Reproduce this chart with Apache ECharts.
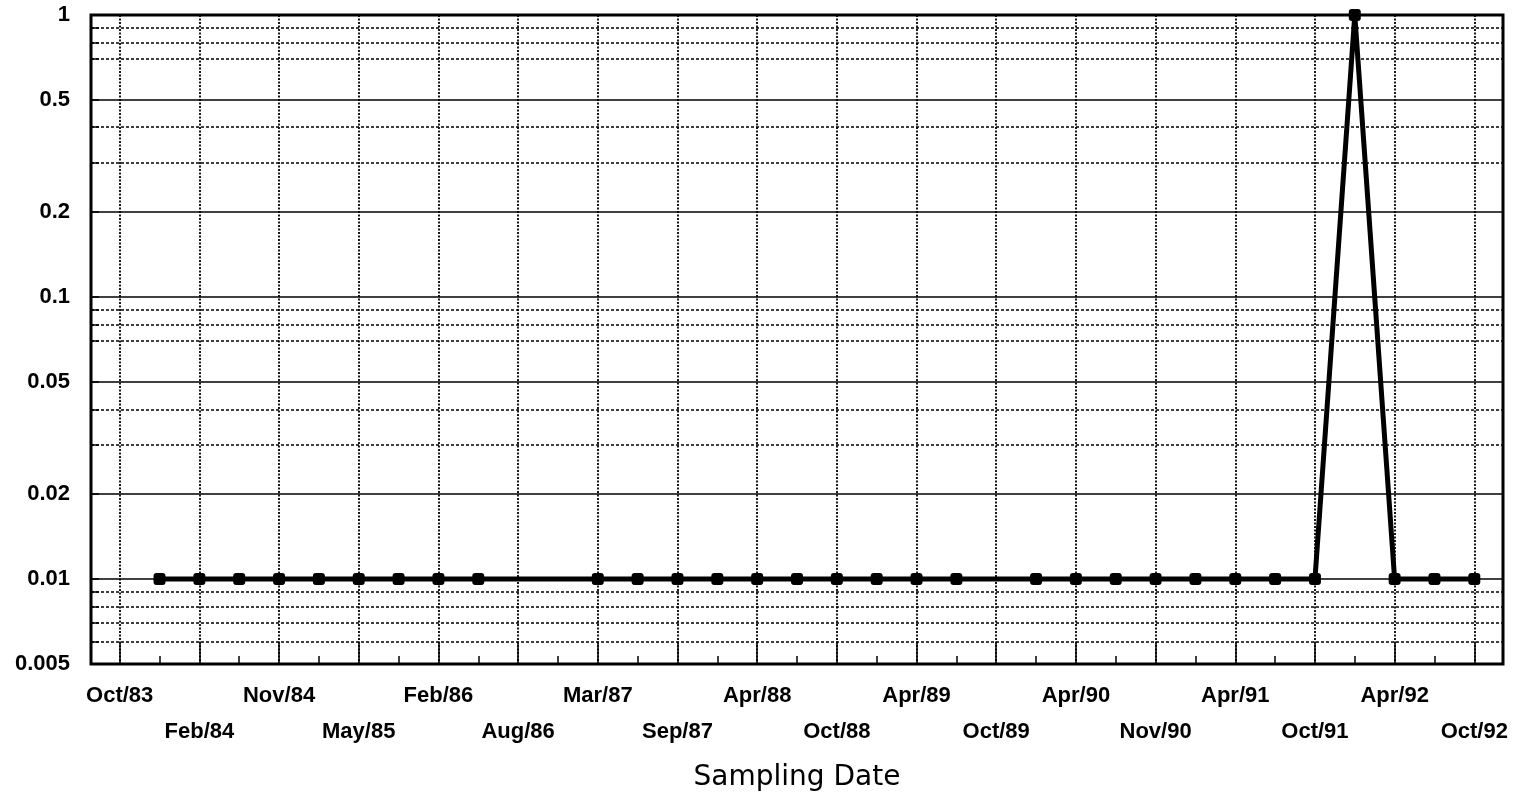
<!DOCTYPE html>
<html>
<head>
<meta charset="utf-8">
<script src="https://cdn.jsdelivr.net/npm/echarts@6/dist/echarts.min.js"></script>
<style>
  html, body { margin: 0; padding: 0; background: #fff; }
  #chart { width: 1513px; height: 799px; }
</style>
</head>
<body>
<div id="chart"></div>
<script>
// Dates printed under every second sampling slot
const dateLabels = [
  'Oct/83', 'Feb/84', 'Nov/84', 'May/85', 'Feb/86', 'Aug/86', 'Mar/87', 'Sep/87', 'Apr/88',
  'Oct/88', 'Apr/89', 'Oct/89', 'Apr/90', 'Nov/90', 'Apr/91', 'Oct/91', 'Apr/92', 'Oct/92'
];

// Concentration per sampling slot (null = no result for that slot)
const concentration = [
  null,
  0.01, 0.01, 0.01, 0.01, 0.01, 0.01, 0.01, 0.01, 0.01,
  null, null,
  0.01, 0.01, 0.01, 0.01, 0.01, 0.01, 0.01, 0.01, 0.01, 0.01,
  null,
  0.01, 0.01, 0.01, 0.01, 0.01, 0.01, 0.01, 0.01,
  1,
  0.01, 0.01, 0.01
];

// Log-axis labels (solid grid) and the extra dotted grid levels
const yLabelValues = [0.005, 0.01, 0.02, 0.05, 0.1, 0.2, 0.5, 1];
const yMinorValues = [0.006, 0.007, 0.008, 0.009, 0.03, 0.04, 0.07, 0.08, 0.09, 0.3, 0.4, 0.7, 0.8, 0.9];

const TICK_FONT = 'Liberation Sans';
const TITLE_FONT = 'DejaVu Sans';
const slotCount = concentration.length;
const edgePad = 0.72;

const chart = echarts.init(document.getElementById('chart'), null, { renderer: 'canvas' });

function dateLabel(value) {
  if (Math.abs(value - Math.round(value)) > 1e-6) return '';
  const v = Math.round(value);
  if (v % 2 !== 0) return '';
  const k = v / 2;
  const text = dateLabels[k];
  if (text === undefined) return '';
  return k % 2 === 0 ? text : '\n' + text;
}

const tickLine = { color: '#000', width: 1.5 };

chart.setOption({
  animation: false,
  backgroundColor: '#fff',
  grid: {
    left: 91, right: 10, top: 15, bottom: 135,
    show: true,
    borderColor: '#000',
    borderWidth: 3,
    backgroundColor: 'transparent',
    containLabel: false,
    outerBoundsMode: 'none'
  },
  xAxis: [
    {
      type: 'value',
      min: -edgePad,
      max: slotCount - 1 + edgePad,
      minInterval: 2,
      maxInterval: 2,
      axisLine: { show: false, onZero: false },
      axisTick: { show: true, inside: true, length: 22, lineStyle: tickLine },
      axisLabel: {
        show: true,
        margin: 14,
        lineHeight: 36,
        fontFamily: TICK_FONT,
        fontWeight: 'bold',
        fontSize: 22,
        color: '#000',
        formatter: dateLabel
      },
      splitLine: { show: true, lineStyle: { color: '#000', width: 1.8, type: [2, 1.5] } },
      name: 'Sampling Date',
      nameLocation: 'middle',
      nameGap: 100,
      nameTextStyle: { fontFamily: TITLE_FONT, fontSize: 28, color: '#000' }
    },
    {
      type: 'value',
      position: 'bottom',
      min: -edgePad,
      max: slotCount - 1 + edgePad,
      minInterval: 1,
      maxInterval: 1,
      axisLine: { show: false, onZero: false },
      axisTick: { show: true, inside: true, length: 8, lineStyle: tickLine },
      axisLabel: { show: false },
      splitLine: { show: false }
    }
  ],
  yAxis: [
    {
      type: 'log',
      logBase: 10,
      min: 0.005,
      max: 1,
      position: 'left',
      axisLine: { show: false, onZero: false },
      axisTick: { show: true, inside: true, length: 8, customValues: yLabelValues, lineStyle: tickLine },
      axisLabel: {
        show: true,
        customValues: yLabelValues,
        margin: 21,
        padding: [6, 0, 0, 0],
        fontFamily: TICK_FONT,
        fontWeight: 'bold',
        fontSize: 22,
        color: '#000',
        formatter: v => String(Number(Number(v).toPrecision(6)))
      },
      splitLine: { show: true, lineStyle: { color: '#000', width: 1.5, type: 'solid' } }
    },
    {
      type: 'log',
      logBase: 10,
      min: 0.005,
      max: 1,
      position: 'left',
      axisLine: { show: false, onZero: false },
      axisTick: { show: true, inside: true, length: 8, customValues: yMinorValues, lineStyle: tickLine },
      axisLabel: { show: false, customValues: yMinorValues },
      splitLine: { show: true, lineStyle: { color: '#000', width: 1.6, type: [3, 2] } }
    }
  ],
  series: [
    {
      type: 'line',
      xAxisIndex: 0,
      yAxisIndex: 0,
      data: concentration.map((v, i) => [i, v]),
      connectNulls: true,
      symbol: 'roundRect',
      symbolSize: 12,
      showAllSymbol: true,
      clip: false,
      lineStyle: { color: '#000', width: 5 },
      itemStyle: { color: '#000' },
      z: 5
    }
  ]
});
</script>
</body>
</html>
